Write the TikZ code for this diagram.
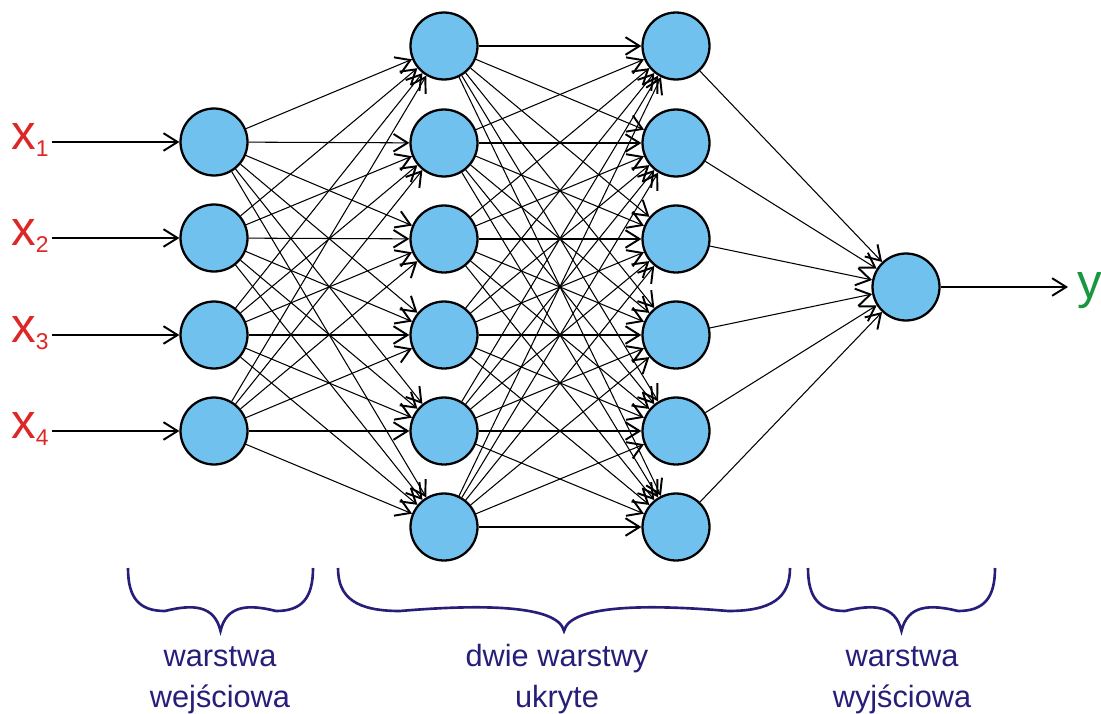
\documentclass[tikz,border=0pt]{standalone}
\usepackage{fontspec}
\setmainfont{Liberation Sans}
\usetikzlibrary{arrows.meta}

\definecolor{cellblue}{RGB}{112,193,237}
\definecolor{inred}{RGB}{222,38,38}
\definecolor{outgreen}{RGB}{24,150,64}
\definecolor{bracenavy}{RGB}{38,30,120}

\begin{document}
\begin{tikzpicture}[
  x=0.02cm, y=-0.02cm,
  neuron/.style={
    circle, draw, line width=1.3pt, fill=cellblue,
    minimum size=1.34cm, inner sep=0pt},
  syn/.style={
    line width=0.6pt,
    -{Straight Barb[length=8pt, width=10pt, line width=1.1pt]}},
  invar/.style={
    anchor=base west, inner sep=0pt, text=inred,
    font=\fontsize{28}{28}\selectfont},
  brc/.style={draw=bracenavy, line width=1.5pt},
  layer/.style={
    anchor=base, align=center, inner sep=0pt, text=bracenavy,
    font=\fontsize{17.5}{19.8}\selectfont},
]
\useasboundingbox (0,0) rectangle (1101,713);

  % ── Neurons ─────────────────────────────────────────────────────────────
  \foreach \n/\y in {1/142, 2/238, 3/335, 4/431}
    \node[neuron] (i\n) at (214,\y) {};
  \foreach \n/\y in {1/46, 2/143, 3/239, 4/335, 5/431, 6/527} {
    \node[neuron] (a\n) at (444,\y) {};
    \node[neuron] (b\n) at (676,\y) {};
  }
  \node[neuron] (out) at (906,287) {};

  % ── Inputs x1..x4 ───────────────────────────────────────────────────────
  \foreach \n/\y in {1/142, 2/238, 3/335, 4/431} {
    \coordinate (src\n) at (52,\y);
    \node[invar] (x\n) at (11,\y+7)
      {x\raisebox{-4.5pt}{\fontsize{13}{13}\selectfont\n}};
    \draw[syn] (src\n) -- (i\n);
  }

  % ── Weights: every neuron feeds every neuron of the next layer ──────────
  \foreach \s in {1,...,4}
    \foreach \t in {1,...,6}
      \draw[syn] (i\s) -- (a\t);
  \foreach \s in {1,...,6}
    \foreach \t in {1,...,6}
      \draw[syn] (a\s) -- (b\t);
  \foreach \s in {1,...,6}
    \draw[syn] (b\s) -- (out);

  % ── Output y ────────────────────────────────────────────────────────────
  \coordinate (yend) at (1068,287);
  \draw[syn] (out) -- (yend);
  \node[invar, text=outgreen] (ylab) at (1077,298) {y};

  % ── Braces under the layers ─────────────────────────────────────────────
  \foreach \l/\r/\d in {128/313/37, 338/790/62, 808/995/37} {
    \pgfmathsetmacro\m{(\l+\r)/2}
    \draw[brc] (\l,568) .. controls (\l,598) and (\l+0.3*\d,611) .. (\l+\d,611)
      .. controls ({(\l+\d+\m)/2},604) and (\m-6,605) .. (\m,631)
      .. controls (\m+6,605) and ({(\r-\d+\m)/2},604) .. (\r-\d,611)
      .. controls (\r-0.3*\d,611) and (\r,598) .. (\r,568);
  }

  % base is the last line of each label
  \node[layer] (lin)  at (220,707) {warstwa\\[3pt]wejściowa};
  \node[layer] (lhid) at (557,707) {dwie warstwy\\[3pt]ukryte};
  \node[layer] (lout) at (902,707) {warstwa\\[3pt]wyjściowa};

\end{tikzpicture}
\end{document}
